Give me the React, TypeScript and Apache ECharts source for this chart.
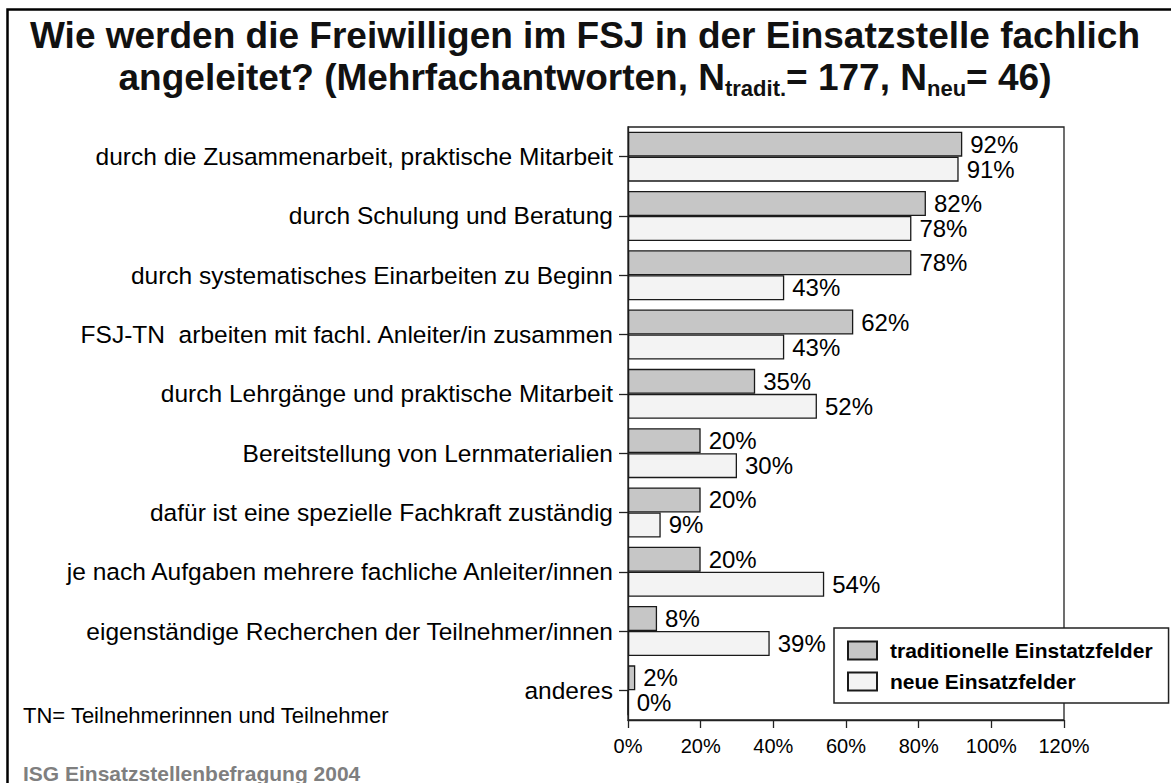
import React, { useEffect, useRef } from "react";
import * as echarts from "echarts";

const categories = [
  "durch die Zusammenarbeit, praktische Mitarbeit",
  "durch Schulung und Beratung",
  "durch systematisches Einarbeiten zu Beginn",
  "FSJ-TN  arbeiten mit fachl. Anleiter/in zusammen",
  "durch Lehrgänge und praktische Mitarbeit",
  "Bereitstellung von Lernmaterialien",
  "dafür ist eine spezielle Fachkraft zuständig",
  "je nach Aufgaben mehrere fachliche Anleiter/innen",
  "eigenständige Recherchen der Teilnehmer/innen",
  "anderes",
];
const traditionell = [92, 82, 78, 62, 35, 20, 20, 20, 8, 2];
const neu = [91, 78, 43, 43, 52, 30, 9, 54, 39, 0];
const seriesNames = ["traditionelle Einstatzfelder", "neue Einsatzfelder"];
const xTicks = { min: 0, max: 120, interval: 20 };

const FONT = '"Liberation Sans", Arial, sans-serif';

export default function App() {
  const ref = useRef<HTMLDivElement>(null);
  useEffect(() => {
    if (!ref.current) return;
    const chart = echarts.init(ref.current, null, { renderer: "svg" });
    const labelStyle = {
      show: true,
      position: "right" as const,
      distance: 8,
      formatter: "{c}%",
      fontSize: 24,
      fontFamily: FONT,
      color: "#000",
    };
    chart.setOption({
      animation: false,
      backgroundColor: "#fff",
      textStyle: { fontFamily: FONT },
      grid: {
        left: 628,
        right: 1171 - 1064,
        top: 127,
        bottom: 783 - 720,
        show: true,
        borderColor: "#222",
        borderWidth: 1.3,
        backgroundColor: "transparent",
      },
      legend: {
        orient: "vertical",
        left: 834,
        top: 628,
        padding: [12, 16, 11, 13],
        itemWidth: 29,
        itemHeight: 18,
        itemGap: 10,
        backgroundColor: "#fff",
        borderColor: "#222",
        borderWidth: 1.5,
        icon: "rect",
        textStyle: {
          fontSize: 21,
          fontWeight: "bold",
          fontFamily: FONT,
          color: "#000",
          padding: [0, 0, 0, 8],
        },
        data: seriesNames,
      },
      xAxis: {
        type: "value",
        min: xTicks.min,
        max: xTicks.max,
        interval: xTicks.interval,
        axisLine: { show: true, lineStyle: { color: "#222", width: 1.3 } },
        axisTick: { show: true, length: 8, lineStyle: { color: "#222", width: 1.3 } },
        splitLine: { show: false },
        axisLabel: {
          formatter: "{value}%",
          fontSize: 20,
          fontFamily: FONT,
          color: "#000",
          margin: 16,
        },
      },
      yAxis: {
        type: "category",
        inverse: true,
        data: categories,
        axisLine: { show: true, lineStyle: { color: "#222", width: 1.3 } },
        axisTick: {
          show: true,
          alignWithLabel: true,
          length: 9,
          lineStyle: { color: "#222", width: 1.3 },
        },
        axisLabel: {
          fontSize: 24.5,
          fontFamily: FONT,
          color: "#000",
          margin: 15,
        },
      },
      series: [
        {
          name: seriesNames[0],
          type: "bar",
          data: traditionell,
          barWidth: 25,
          barGap: "0%",
          itemStyle: { color: "#c6c6c6", borderColor: "#1a1a1a", borderWidth: 1.3 },
          label: labelStyle,
        },
        {
          name: seriesNames[1],
          type: "bar",
          data: neu,
          barWidth: 25,
          barGap: "0%",
          itemStyle: { color: "#f3f3f3", borderColor: "#1a1a1a", borderWidth: 1.3 },
          label: labelStyle,
        },
      ],
      graphic: [
        {
          type: "rect",
          silent: true,
          z: -1,
          shape: { x: 7.5, y: 9.5, width: 1300, height: 900 },
          style: { fill: "none", stroke: "#000", lineWidth: 2.5 },
        },
        {
          type: "text",
          x: 585,
          y: 35,
          style: {
            text: "Wie werden die Freiwilligen im FSJ in der Einsatzstelle fachlich",
            font: `bold 37px ${FONT}`,
            fill: "#111",
            align: "center",
            verticalAlign: "middle",
          },
        },
        {
          type: "text",
          x: 585,
          y: 77,
          style: {
            text: "{a|angeleitet? (Mehrfachantworten, N}{b|tradit.}{a|= 177, N}{b|neu}{a|= 46)}",
            align: "center",
            verticalAlign: "middle",
            fill: "#111",
            rich: {
              a: {
                fontSize: 37,
                fontWeight: "bold",
                fontFamily: FONT,
                lineHeight: 44,
                verticalAlign: "middle",
                fill: "#111",
              },
              b: {
                fontSize: 22,
                fontWeight: "bold",
                fontFamily: FONT,
                lineHeight: 22,
                verticalAlign: "bottom",
                fill: "#111",
              },
            },
          },
        },
        {
          type: "text",
          x: 23,
          y: 715,
          style: {
            text: "TN= Teilnehmerinnen und Teilnehmer",
            font: `22px ${FONT}`,
            fill: "#000",
            align: "left",
            verticalAlign: "middle",
          },
        },
        {
          type: "text",
          x: 23,
          y: 773,
          style: {
            text: "ISG Einsatzstellenbefragung 2004",
            font: `bold 21px ${FONT}`,
            fill: "#7f7f7f",
            align: "left",
            verticalAlign: "middle",
          },
        },
      ],
    });
    return () => chart.dispose();
  }, []);
  return (
    <div
      ref={ref}
      style={{ position: "fixed", left: 0, top: 0, width: 1171, height: 783 }}
    />
  );
}
